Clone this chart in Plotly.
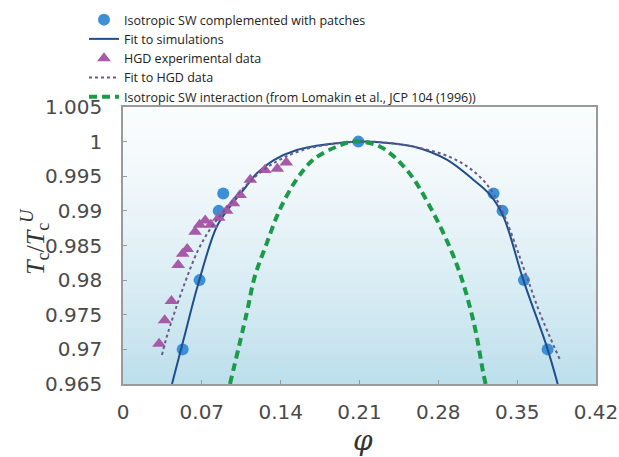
import plotly.graph_objects as go

# ---- data ----
sim_x = [0.053, 0.068, 0.085, 0.089, 0.209, 0.329, 0.337, 0.356, 0.377]
sim_y = [0.970, 0.980, 0.990, 0.9925, 1.000, 0.9925, 0.990, 0.980, 0.970]

fit_sim_x = [0.0435, 0.0536, 0.0669, 0.0832, 0.095, 0.1068, 0.1187, 0.1335, 0.1543, 0.18, 0.21,
             0.228, 0.2578, 0.2875, 0.311, 0.326, 0.3377, 0.3555, 0.3763, 0.386]
fit_sim_y = [0.965, 0.9713, 0.9795, 0.9877, 0.9906, 0.9930, 0.9954, 0.9973, 0.9988, 0.9996, 1.0,
             0.9999, 0.9993, 0.9974, 0.9945, 0.9923, 0.9892, 0.9800, 0.9704, 0.965]

hgd_x = [0.032, 0.037, 0.043, 0.049, 0.053, 0.057, 0.064, 0.068, 0.073, 0.078, 0.085, 0.092,
         0.098, 0.104, 0.113, 0.126, 0.137, 0.145]
hgd_y = [0.9708, 0.9742, 0.9770, 0.9822, 0.9838, 0.9845, 0.9870, 0.9880, 0.9886, 0.9880, 0.9890,
         0.9900, 0.9911, 0.9923, 0.9945, 0.9959, 0.9961, 0.9970]

fit_hgd_x = [0.0346, 0.0388, 0.0536, 0.0669, 0.0788, 0.095, 0.11, 0.13, 0.16, 0.21, 0.25, 0.29,
             0.315, 0.332, 0.3585, 0.370, 0.388]
fit_hgd_y = [0.9692, 0.9718, 0.9790, 0.9844, 0.9877, 0.9910, 0.9938, 0.9965, 0.9988, 1.0, 0.9995,
             0.9978, 0.9952, 0.9916, 0.9805, 0.9753, 0.9685]

iso_x = [0.095, 0.1098, 0.117, 0.1276, 0.139, 0.154, 0.169, 0.19, 0.205, 0.228, 0.252, 0.2726,
         0.296, 0.311, 0.32, 0.322]
iso_y = [0.965, 0.9752, 0.9805, 0.9853, 0.9901, 0.9945, 0.9974, 0.9993, 1.0, 0.9993, 0.9959,
         0.9906, 0.9824, 0.9742, 0.9665, 0.965]

x_ticks = [0, 0.07, 0.14, 0.21, 0.28, 0.35, 0.42]
x_ticklabels = ["0", "0.07", "0.14", "0.21", "0.28", "0.35", "0.42"]
y_ticks = [0.965, 0.97, 0.975, 0.98, 0.985, 0.99, 0.995, 1.0, 1.005]
y_ticklabels = ["0.965", "0.97", "0.975", "0.98", "0.985", "0.99", "0.995", "1", "1.005"]

names = ["Isotropic SW complemented with patches", "Fit to simulations", "HGD experimental data",
         "Fit to HGD data", "Isotropic SW interaction (from Lomakin et al., JCP 104 (1996))"]
x_title = "<i>φ</i>"
y_title = "<i>T</i><sub>c</sub>/<i>T</i><sub>c</sub><sup><i>U</i></sup>"

fig = go.Figure()
fig.add_trace(go.Scatter(x=sim_x, y=sim_y, mode="markers", name=names[0],
                         marker=dict(symbol="circle", size=12, color="#3d8fd6")))
fig.add_trace(go.Scatter(x=fit_sim_x, y=fit_sim_y, mode="lines", name=names[1],
                         line=dict(color="#1f4e8c", width=2, shape="spline")))
fig.add_trace(go.Scatter(x=hgd_x, y=hgd_y, mode="markers", name=names[2],
                         marker=dict(symbol="triangle-up", size=12, color="#a65aa8")))
fig.add_trace(go.Scatter(x=fit_hgd_x, y=fit_hgd_y, mode="lines", name=names[3],
                         line=dict(color="#6a5a88", width=2, dash="dot", shape="spline")))
fig.add_trace(go.Scatter(x=iso_x, y=iso_y, mode="lines", name=names[4],
                         line=dict(color="#1b9a4a", width=4, dash="8px,5px", shape="spline")))

# gradient background (white top -> light blue bottom)
nb = 40
top = (250, 252, 253)
bot = (188, 223, 236)
for i in range(nb):
    t = (i + 0.5) / nb
    w = t ** 1.4
    c = tuple(int(round(top[k] * (1 - w) + bot[k] * w)) for k in range(3))
    fig.add_shape(type="rect", xref="x domain", yref="y domain",
                  x0=0, x1=1, y0=1 - (i + 1) / nb, y1=1 - i / nb + 0.002,
                  fillcolor="rgb(%d,%d,%d)" % c, line=dict(width=0), layer="below")

# axis titles as annotations (pixel-placed)
fig.add_annotation(text=y_title, xref="paper", yref="paper", x=-88 / 473, y=(384 - 242) / 277,
                   xanchor="center", yanchor="middle", textangle=-90, showarrow=False,
                   font=dict(family="Liberation Serif, serif", size=26, color="#333333"))
fig.add_annotation(text=x_title, xref="paper", yref="paper", x=(363 - 123) / 473,
                   y=-(440 - 384) / 277, xanchor="center", yanchor="middle", showarrow=False,
                   font=dict(family="DejaVu Serif, serif", size=28, color="#333333"))

tick_font = dict(family="DejaVu Sans, sans-serif", size=20, color="#4a4a4a")
fig.update_layout(
    width=619, height=457,
    margin=dict(l=123, r=23, t=107, b=73, autoexpand=False),
    paper_bgcolor="white", plot_bgcolor="white",
    showlegend=True,
    legend=dict(xref="container", yref="container", x=84 / 619, y=1 - 5 / 457,
                xanchor="left", yanchor="top", bgcolor="rgba(0,0,0,0)",
                font=dict(family="Open Sans, sans-serif", size=12.5, color="#222222"),
                itemwidth=30, tracegroupgap=0),
    xaxis=dict(range=[0, 0.42], tickvals=x_ticks, ticktext=x_ticklabels, tickfont=tick_font,
               showgrid=False, zeroline=False, showline=True, linecolor="#9a9a9a", linewidth=1.5,
               mirror=True, ticks="inside", ticklen=4, tickcolor="#9a9a9a", automargin=False,
               ticklabelstandoff=9),
    yaxis=dict(range=[0.965, 1.005], tickvals=y_ticks, ticktext=y_ticklabels, tickfont=tick_font,
               showgrid=False, zeroline=False, showline=True, linecolor="#9a9a9a", linewidth=1.5,
               mirror=True, ticks="inside", ticklen=4, tickcolor="#9a9a9a", automargin=False,
               ticklabelstandoff=15),
)

fig.write_html("out.html")
